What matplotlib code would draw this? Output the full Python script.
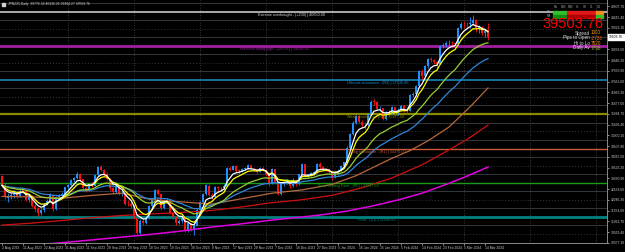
import pandas as pd
import matplotlib.pyplot as plt
from matplotlib.patches import Rectangle

plt.rcParams['font.family'] = ['Liberation Sans', 'DejaVu Sans']

# daily bars: open, high, low, close
ohlc = [
    (33150, 33200, 32650, 32707), (32700, 32800, 32100, 32159), (32150, 32350, 31950, 32192),
    (32200, 32400, 32100, 32254), (32250, 32500, 32150, 32377), (32380, 32450, 32120, 32204),
    (32200, 32550, 32180, 32473), (32480, 32600, 32350, 32470), (32460, 32500, 31980, 32059),
    (32050, 32320, 31950, 32238), (32240, 32260, 31700, 31766), (31760, 31900, 31550, 31626),
    (31620, 31700, 31300, 31450), (31440, 31650, 31350, 31565), (31570, 31900, 31500, 31856),
    (31860, 32100, 31800, 32010), (32010, 32350, 31950, 32287), (32280, 32300, 31550, 31624),
    (31620, 32200, 31600, 32169), (32170, 32300, 32080, 32227), (32230, 32400, 32150, 32333),
    (32330, 32650, 32300, 32619), (32620, 32780, 32550, 32710), (32710, 32990, 32700, 32939),
    (32940, 33100, 32880, 33036), (33040, 33300, 32980, 33241), (33240, 33280, 32900, 32991),
    (32990, 33000, 32550, 32606), (32600, 32650, 32400, 32467), (32470, 32800, 32450, 32776),
    (32780, 32850, 32650, 32706), (32700, 33200, 32690, 33168), (33170, 33600, 33150, 33533),
    (33530, 33620, 33350, 33400), (33400, 33450, 33150, 33242), (33240, 33300, 32950, 33023),
    (33020, 33050, 32500, 32571), (32570, 32650, 32300, 32402), (32400, 32720, 32380, 32678),
    (32680, 32700, 32250, 32315), (32310, 32450, 32200, 32371), (32370, 32400, 31800, 31872),
    (31870, 32050, 31780, 31857), (31860, 31950, 31650, 31759), (31760, 31800, 31150, 31237),
    (31230, 31250, 30480, 30526), (30530, 31150, 30500, 31075), (31070, 31200, 30900, 30994),
    (30990, 31250, 30950, 31200), (31200, 31800, 31180, 31746), (31750, 32100, 31700, 32040),
    (32040, 32550, 32000, 32494), (32490, 32550, 32250, 32315), (32310, 32350, 31600, 31659),
    (31660, 32100, 31620, 32040), (32040, 32150, 31950, 32042), (32040, 32060, 31380, 31430),
    (31430, 31500, 31150, 31259), (31260, 31300, 30900, 30999), (31000, 31150, 30950, 31062),
    (31060, 31350, 31000, 31269), (31270, 31280, 30550, 30601), (30600, 31050, 30560, 30991),
    (30990, 31000, 30600, 30697), (30700, 30950, 30450, 30858), (30860, 31650, 30850, 31601),
    (31600, 32000, 31550, 31950), (31950, 32350, 31900, 32300), (32300, 32750, 32250, 32708),
    (32700, 32760, 32200, 32271), (32270, 32350, 32100, 32166), (32170, 32700, 32150, 32646),
    (32640, 32700, 32450, 32568), (32570, 32650, 32450, 32585), (32580, 32750, 32500, 32695),
    (32700, 33550, 32690, 33519), (33520, 33600, 33350, 33424), (33420, 33650, 33400, 33585),
    (33580, 33620, 33300, 33388), (33390, 33450, 33250, 33354), (33350, 33500, 33300, 33451),
    (33450, 33560, 33400, 33500), (33500, 33700, 33480, 33625), (33620, 33650, 33400, 33447),
    (33450, 33500, 33350, 33408), (33410, 33450, 33250, 33321), (33320, 33530, 33300, 33486),
    (33490, 33550, 33380, 33431), (33430, 33460, 33150, 33231), (33230, 33250, 32700, 32775),
    (32770, 33500, 32750, 33445), (33440, 33480, 32800, 32858), (32860, 32900, 32250, 32307),
    (32300, 32850, 32280, 32791), (32790, 32900, 32700, 32843), (32840, 33000, 32750, 32926),
    (32930, 32950, 32600, 32686), (32690, 33050, 32650, 32970), (32970, 33000, 32700, 32758),
    (32760, 33250, 32740, 33219), (33220, 33750, 33200, 33675), (33670, 33700, 33100, 33140),
    (33140, 33250, 33050, 33169), (33170, 33300, 33150, 33255), (33250, 33380, 33200, 33305),
    (33300, 33720, 33280, 33681), (33680, 33760, 33480, 33539), (33540, 33600, 33400, 33464),
    (33460, 33520, 33380, 33450), (33450, 33500, 33250, 33320), (33320, 33350, 32950, 33100),
    (33100, 33350, 33050, 33288), (33290, 33450, 33200, 33377), (33380, 33650, 33350, 33600),
    (33600, 33800, 33550, 33763), (33760, 34500, 33750, 34441), (34440, 35100, 34400, 35049),
    (35050, 35650, 35000, 35577), (35580, 35950, 35500, 35901), (35900, 36000, 35550, 35619),
    (35620, 35700, 35350, 35477), (35480, 35600, 35300, 35466), (35470, 36000, 35450, 35963),
    (35960, 36600, 35950, 36546), (36550, 36650, 36400, 36517), (36520, 36550, 36150, 36226),
    (36230, 36350, 36100, 36236), (36240, 36260, 35700, 35751), (35750, 36100, 35700, 36026),
    (36030, 36150, 35950, 36065), (36070, 36350, 36000, 36286), (36290, 36300, 35900, 36011),
    (36010, 36250, 35950, 36158), (36160, 36400, 36100, 36354), (36350, 36380, 36050, 36160),
    (36160, 36250, 36000, 36119), (36120, 36900, 36100, 36863), (36860, 37000, 36750, 36897),
    (36900, 37300, 36850, 37250), (37250, 38000, 37200, 37963), (37960, 38050, 37600, 37703),
    (37700, 38200, 37650, 38157), (38160, 38550, 38100, 38487), (38490, 38600, 38350, 38470),
    (38470, 38500, 38250, 38363), (38360, 38400, 38100, 38262), (38260, 39150, 38250, 39098),
    (39100, 39250, 39000, 39150), (39150, 39300, 39050, 39233), (39230, 39350, 39100, 39239),
    (39240, 39300, 39050, 39208), (39210, 39250, 39000, 39166), (39170, 39950, 39150, 39910),
    (39910, 40200, 39850, 40109), (40110, 40250, 39900, 40097), (40100, 40200, 39950, 40090),
    (40090, 40400, 39900, 40150), (40150, 40500, 40050, 40300), (40300, 40350, 39750, 39850),
    (39850, 40050, 39700, 39950), (39950, 40000, 39600, 39700), (39700, 39850, 39500, 39780),
    (39776.39, 40136.26, 39384.27, 39503.76),
]

# slow moving averages (bar index, value)
brown_idx = [0, 10, 20, 30, 40, 50, 60, 70, 80, 90, 100, 110, 118, 124, 130, 136, 142, 149, 156, 162]
brown_val = [32200, 32180, 32120, 32250, 32350, 32050, 31950, 31850, 32100, 32350, 32500, 32750,
             33150, 33550, 33950, 34300, 34750, 35380, 36300, 37170]
red_idx = [0, 10, 20, 30, 40, 50, 60, 70, 80, 89, 100, 110, 120, 130, 140, 149, 156, 162]
red_val = [30890, 30980, 31100, 31230, 31330, 31400, 31470, 31560, 31720, 31900, 32050, 32250,
           32600, 33050, 33650, 34330, 34900, 35470]
mag_idx = [0, 10, 19, 30, 40, 50, 60, 70, 80, 90, 100, 106, 115, 124, 132, 140, 148, 155, 162]
mag_val = [29880, 29980, 30069, 30210, 30340, 30470, 30620, 30800, 30950, 31120, 31260, 31350,
           31530, 31780, 32040, 32350, 32750, 33130, 33550]

# support / resistance levels
level_names = ['Extreme overbought - (+200) | 40650.00', 'Previous swing high - (+6.0%) | 39092.50',
               'Ultimate resistance - (R3) | 37535.00', 'Weak resistance - (R2) | 35977.50',
               'Strong resistance - (R1) | 34375.00', 'Pivot Trading Point - (PP) | 32817.50',
               'Pivot - (S1) | 31260.00']
level_vals = [40650.0, 39092.5, 37535.0, 35977.5, 34375.0, 32817.5, 31260.0]
level_colors = ['#d8d8d8', '#a020a0', '#1e90c8', '#8a8a00', '#c8583c', '#1a9a1a', '#008080']
level_widths = [1.1, 2.0, 1.1, 1.6, 1.0, 1.0, 2.0]
level_text_x = [258, 240, 347, 347, 347, 318, 358]

# right axis labels (the one under the price marker is hidden in the original)
yticks = [30077.10, 30569.40, 31061.70, 31554.00, 32046.30, 32538.60, 33030.90, 33523.20,
          34015.50, 34507.80, 35000.10, 35492.40, 35984.70, 36477.00, 36969.30, 37461.60,
          37953.90, 38446.20, 38938.50, 39923.10, 40415.40, 40907.70]

tf_names = ['M5', 'M15', 'M30', 'H1', 'H4', 'D1', 'W1']
tf_top = ['#30c030', '#30c030', '#e01818', '#e01818', '#e01818', '#e01818', '#f08c20']
tf_bot = ['#109010', '#109010', '#b00000', '#b00000', '#b00000', '#b00000', '#30c030']

info_names = ['Spread', 'Pips to Open', 'Hi to Lo', 'Daily Av']
info_vals = ['1000', '-2726', '7520', '7798']
info_colors = ['#ff9a00', '#ff6a00', '#ff9a00', '#9acd32']

df = pd.DataFrame(ohlc, columns=['Open', 'High', 'Low', 'Close'])
df['Date'] = pd.bdate_range('2023-08-02', periods=len(df))
x = list(range(len(df)))

fig = plt.figure(figsize=(6.25, 2.52), dpi=100, facecolor='black')
ax = fig.add_axes([0, 9 / 252, 607 / 625, 243 / 252], facecolor='black')
ax.set_xlim(-2 / 3, 201.67)
ax.set_ylim(30069.0, 41198.4)

# grid and quarter levels between the main levels
for i in range(22, 200, 22):
    ax.axvline(i, color='#4a4a4a', lw=0.6, ls=(0, (1, 2)), zorder=0)
steps = [level_vals[0] + (level_vals[0] - level_vals[1]) / 4]
for a, b in zip(level_vals[:-1], level_vals[1:]):
    q = (a - b) / 4
    steps += [a - q, a - 2 * q, a - 3 * q]
steps += [level_vals[-1] - k * (level_vals[-2] - level_vals[-1]) / 4 for k in (1, 2, 3)]
for k, v in enumerate(steps):
    ax.axhline(v, color='#34383e', lw=0.7, ls=(0, (1, 2)) if k % 3 == 2 else '-', zorder=0)

for v, c, w, name, tx in zip(level_vals, level_colors, level_widths, level_names, level_text_x):
    ax.axhline(v, color=c, lw=w, zorder=1)
    ax.text((tx - 2) / 3, v - 50, name, color=c, fontsize=2.7, va='top', ha='left', zorder=5)

# candles
up = df['Close'] >= df['Open']
colors = ['#1e90ff' if u else '#ff1010' for u in up]
ax.vlines(x, df['Low'], df['High'], colors=colors, lw=0.6, zorder=2)
ax.bar(x, (df['Close'] - df['Open']).abs().clip(lower=15), bottom=df[['Open', 'Close']].min(axis=1),
       width=0.68, color=colors, zorder=2)

# moving averages
ax.plot(mag_idx, mag_val, color='#e000e0', lw=1.1, zorder=3)
ax.plot(red_idx, red_val, color='#d01010', lw=0.9, zorder=3)
ax.plot(brown_idx, brown_val, color='#b8683a', lw=0.9, zorder=3)
ax.plot(x, df['Close'].ewm(span=34, adjust=False).mean(), color='#2f86d8', lw=0.9, zorder=3)
ax.plot(x, df['Close'].ewm(span=21, adjust=False).mean(), color='#9acd32', lw=0.9, zorder=3)
ax.plot(x, df['Close'].ewm(span=8, adjust=False).mean(), color='#ffff00', lw=0.9, zorder=3)
ax.plot(x, df['Close'].ewm(span=5, adjust=False).mean(), color='#ffffff', lw=0.9, zorder=3)

# axes cosmetics
for s in ['top', 'left']:
    ax.spines[s].set_visible(False)
for s in ['right', 'bottom']:
    ax.spines[s].set_color('#8a8a8a')
    ax.spines[s].set_linewidth(0.7)
ax.yaxis.tick_right()
ax.set_yticks(yticks)
ax.set_yticklabels([f'{v:.2f}' for v in yticks])
xt = list(range(0, len(df), 7))
ax.set_xticks(xt)
ax.set_xticklabels([f"{d.day} {d.strftime('%b %Y')}" for d in df['Date'].iloc[xt]], ha='left')
ax.tick_params(colors='#c8c8c8', labelsize=2.4, length=1.5, width=0.5, pad=1)

# title
fig.text(8 / 625, 1 - 4 / 252, 'JPN225,Daily  39776.39 40136.26 39384.27 39503.76',
         color='#d0d0d0', fontsize=2.4, va='center')
fig.add_artist(Rectangle((2 / 625, 1 - 5.5 / 252), 3 / 625, 3 / 252, color='#d0d0d0',
                         transform=fig.transFigure))

# current price marker on the axis
fig.add_artist(Rectangle((608 / 625, 1 - 39.5 / 252), 17 / 625, 5 / 252, color='white',
                         transform=fig.transFigure, zorder=10))
fig.text(609 / 625, 1 - 37 / 252, '39503.76', color='black', fontsize=2.4, va='center', zorder=11)

# indicator panel
fig.text(547 / 625, 1 - 12 / 252, 'TR', color='#a0a0a0', fontsize=2.0, va='center')
fig.text(547 / 625, 1 - 16 / 252, 'MA', color='#a0a0a0', fontsize=2.0, va='center')
for k, (n, ct, cb) in enumerate(zip(tf_names, tf_top, tf_bot)):
    x0 = 553 + k * 7.2
    fig.text((x0 + 3) / 625, 1 - 7.5 / 252, n, color='#a0a0a0', fontsize=2.0, ha='center', va='center')
    fig.add_artist(Rectangle((x0 / 625, 1 - 14 / 252), 6.4 / 625, 3 / 252, color=ct,
                             transform=fig.transFigure))
    fig.add_artist(Rectangle((x0 / 625, 1 - 17.5 / 252), 6.4 / 625, 3 / 252, color=cb,
                             transform=fig.transFigure))
fig.text(573 / 625, 1 - 24 / 252, '39503.76', color='#ff0000', fontsize=10.5, ha='center', va='center')
for k, (n, v, c) in enumerate(zip(info_names, info_vals, info_colors)):
    yy = 1 - (33 + 5 * k) / 252
    fig.text(590 / 625, yy, n, color='#e0e0e0', fontsize=3.3, ha='right', va='center')
    fig.text(590.5 / 625, yy, v, color=c, fontsize=3.3, ha='left', va='center')

fig.savefig('out.png', dpi=100, facecolor='black')
